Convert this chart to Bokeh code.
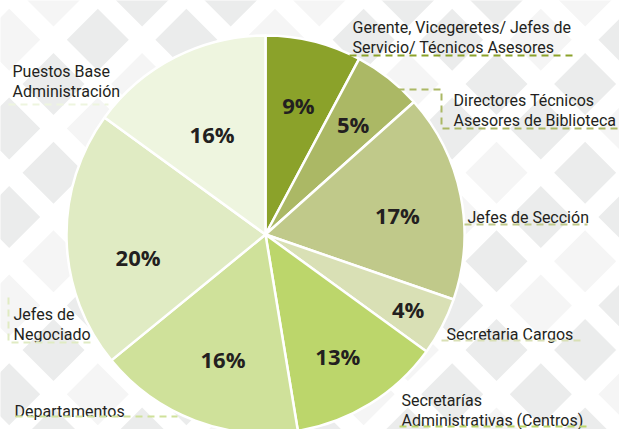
import math
from bokeh.plotting import figure
from bokeh.models import Range1d, ColumnDataSource
from bokeh.core.properties import value
from bokeh.embed import file_html
from bokeh.resources import INLINE

# ---- data ----
categories = [
    "Gerente, Vicegeretes/ Jefes de Servicio/ Técnicos Asesores",
    "Directores Técnicos Asesores de Biblioteca",
    "Jefes de Sección",
    "Secretaria Cargos",
    "Secretarías Administrativas (Centros)",
    "Departamentos",
    "Jefes de Negociado",
    "Puestos Base Administración",
]
# slice shares as drawn
shares = [7.8, 5.6, 16.9, 4.7, 12.4, 16.7, 20.9, 15.0]
# percentages printed on the slices
pct_labels = ["9%", "5%", "17%", "4%", "13%", "16%", "20%", "16%"]
colors = ["#8ba22a", "#abb865", "#c0c98a", "#d9e0b5", "#bcd66b", "#cfe19a", "#e0ebc3", "#eef5df"]
label_radius_frac = [0.67, 0.71, 0.67, 0.81, 0.71, 0.66, 0.65, 0.57]
label_angle_frac = [0.51, 0.51, 0.55, 0.51, 0.52, 0.47, 0.39, 0.48]

W, H = 619, 429
def Y(img_y):
    return H - img_y

p = figure(width=W, height=H, output_backend="svg", toolbar_location=None,
           x_range=Range1d(0, W), y_range=Range1d(0, H), min_border=0)
p.axis.visible = False
p.grid.visible = False
p.outline_line_color = None
p.background_fill_color = "white"
p.border_fill_color = "white"

# ---- decorative diamond background ----
step, half = 44.3, 31
dxs, dys, dcol = [], [], []
for k in range(0, 11):
    for i in range(-2, 15):
        if (i + k) % 2:
            continue
        x = 53 + step * i
        y = -5 + step * k
        dxs.append([x - half, x, x + half, x])
        dys.append([Y(y), Y(y - half), Y(y), Y(y + half)])
        dcol.append("#ebecec" if (i // 2 + k) % 3 else "#f5f5f5")
p.patches(xs=dxs, ys=dys, fill_color=dcol, line_color=None)

cx, cy, R = 265, Y(234), 199
total = sum(shares)
starts, ends, lx, ly = [], [], [], []
cum = 0
for i, v in enumerate(shares):
    a0 = math.pi / 2 - 2 * math.pi * cum / total
    cum += v
    a1 = math.pi / 2 - 2 * math.pi * cum / total
    starts.append(a0)
    ends.append(a1)
    mid = a0 + (a1 - a0) * label_angle_frac[i]
    r = R * label_radius_frac[i]
    lx.append(cx + r * math.cos(mid))
    ly.append(cy + r * math.sin(mid))

src = ColumnDataSource(dict(start=starts, end=ends, color=colors, lx=lx, ly=ly, lab=pct_labels))
p.wedge(x=cx, y=cy, radius=R, start_angle="start", end_angle="end", direction="clock",
        fill_color="color", line_color="white", line_width=2.5, source=src)
p.text(x="lx", y="ly", text="lab", source=src, text_align="center", text_baseline="middle",
       text_font=value("Open Sans"), text_font_style="bold", text_font_size="22px",
       text_color="#231f20")

# ---- category labels (layout in image pixel coords) ----
label_lines = [
    ["Gerente, Vicegeretes/ Jefes de", "Servicio/ Técnicos Asesores"],
    ["Directores Técnicos", "Asesores de Biblioteca"],
    ["Jefes de Sección"],
    ["Secretaria Cargos"],
    ["Secretarías", "Administrativas (Centros)"],
    ["Departamentos"],
    ["Jefes de", "Negociado"],
    ["Puestos Base", "Administración"],
]
label_pos = [(352, 27), (453, 100), (467, 217), (446, 334), (401, 400), (14, 411), (13, 314), (12, 71)]
line_gap = 20
tx, ty, tt = [], [], []
for lines, (x0, y0) in zip(label_lines, label_pos):
    for k, s in enumerate(lines):
        tx.append(x0)
        ty.append(Y(y0 + k * line_gap))
        tt.append(s)
p.text(x=tx, y=ty, text=tt, text_align="left", text_baseline="alphabetic",
       text_font=value("Roboto"), text_font_size="16px", text_color="#231f20")

# dashed leader lines (image coords)
leaders = [
    [(349, 55), (576, 55)],
    [(397, 89), (441, 89), (441, 128), (619, 128)],
    [(464, 224), (587, 224)],
    [(441, 340), (581, 340)],
    [(399, 426), (586, 426)],
    [(15, 416), (177, 416)],
    [(8, 297), (8, 342), (92, 342)],
    [(8, 104), (108, 104)],
]
for pts, c in zip(leaders, colors):
    p.line([q[0] for q in pts], [Y(q[1]) for q in pts], line_color=c, line_width=2,
           line_dash="7 5")

open("out.html", "w").write(file_html(p, INLINE))
